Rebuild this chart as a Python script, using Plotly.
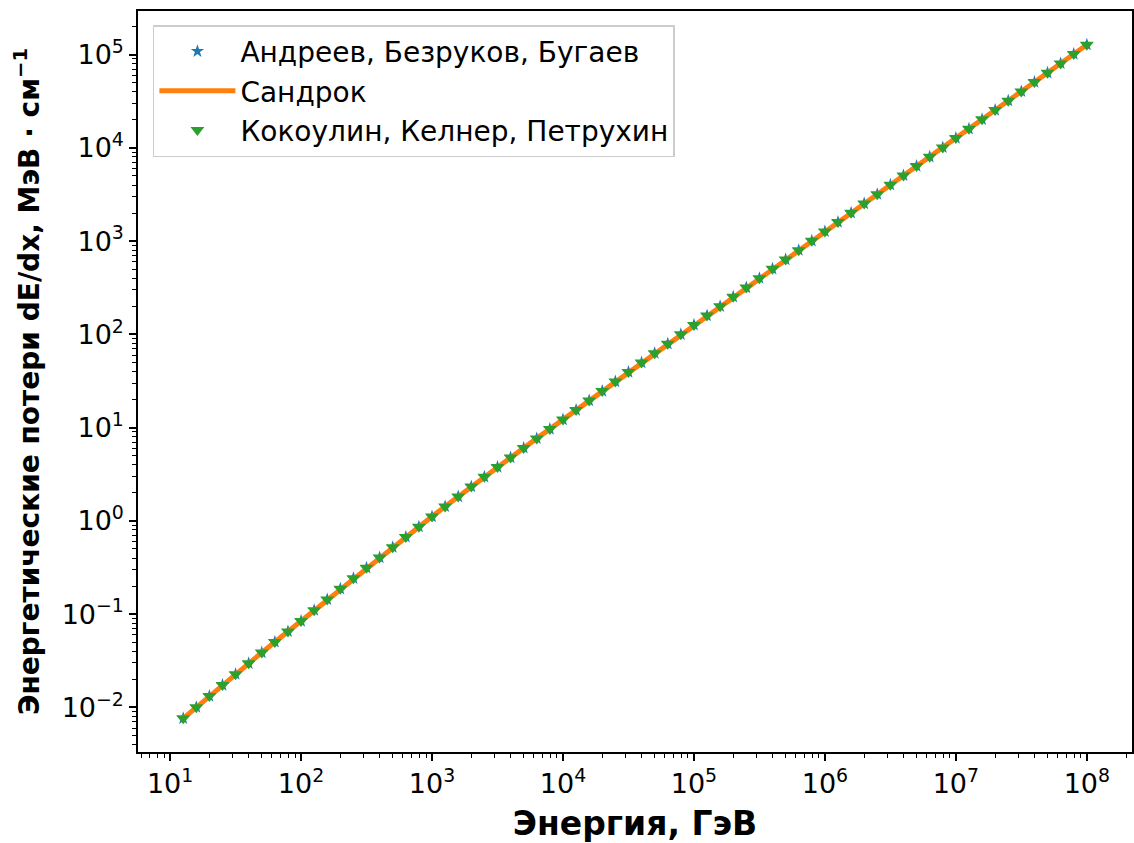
import plotly.graph_objects as go

# Energy grid, GeV (10 points per decade, 10^1.1 .. 10^8)
energy = [
    12.59, 15.85, 19.95, 25.12, 31.62, 39.81, 50.12, 63.10, 79.43, 100.0,
    125.9, 158.5, 199.5, 251.2, 316.2, 398.1, 501.2, 631.0, 794.3, 1000.0,
    1259, 1585, 1995, 2512, 3162, 3981, 5012, 6310, 7943, 10000,
    12590, 15850, 19950, 25120, 31620, 39810, 50120, 63100, 79430, 100000,
    125900, 158500, 199500, 251200, 316200, 398100, 501200, 631000, 794300, 1000000,
    1259000, 1585000, 1995000, 2512000, 3162000, 3981000, 5012000, 6310000, 7943000, 10000000,
    12590000, 15850000, 19950000, 25120000, 31620000, 39810000, 50120000, 63100000, 79430000, 100000000,
]

# Energy losses, MeV/cm
loss_andreev = [
    0.00764, 0.01007, 0.01324, 0.01738, 0.02275, 0.02972, 0.03873, 0.05035, 0.06531, 0.08453,
    0.1104, 0.1439, 0.1871, 0.2427, 0.3141, 0.4055, 0.5224, 0.6730, 0.8670, 1.114,
    1.429, 1.828, 2.333, 2.972, 3.776, 4.786, 6.067, 7.674, 9.683, 12.22,
    15.45, 19.54, 24.72, 31.26, 39.54, 49.89, 62.95, 79.43, 100.2, 126.5,
    159.2, 200.4, 252.9, 318.4, 400.9, 504.7, 635.3, 799.8, 1009, 1271,
    1600, 2014, 2535, 3192, 4018, 5070, 6383, 8035, 10120, 12740,
    16030, 20230, 25470, 32060, 40360, 50820, 63970, 80540, 101600, 127900,
]
loss_sandrock = [
    0.00764, 0.01007, 0.01324, 0.01738, 0.02275, 0.02972, 0.03873, 0.05035, 0.06531, 0.08453,
    0.1104, 0.1439, 0.1871, 0.2427, 0.3141, 0.4055, 0.5224, 0.6730, 0.8670, 1.114,
    1.429, 1.828, 2.333, 2.972, 3.776, 4.786, 6.067, 7.674, 9.683, 12.22,
    15.45, 19.54, 24.72, 31.26, 39.54, 49.89, 62.95, 79.43, 100.2, 126.5,
    159.2, 200.4, 252.9, 318.4, 400.9, 504.7, 635.3, 799.8, 1009, 1271,
    1600, 2014, 2535, 3192, 4018, 5070, 6383, 8035, 10120, 12740,
    16030, 20230, 25470, 32060, 40360, 50820, 63970, 80540, 101600, 127900,
]
loss_kokoulin = [
    0.00764, 0.01007, 0.01324, 0.01738, 0.02275, 0.02972, 0.03873, 0.05035, 0.06531, 0.08453,
    0.1104, 0.1439, 0.1871, 0.2427, 0.3141, 0.4055, 0.5224, 0.6730, 0.8670, 1.114,
    1.429, 1.828, 2.333, 2.972, 3.776, 4.786, 6.067, 7.674, 9.683, 12.22,
    15.45, 19.54, 24.72, 31.26, 39.54, 49.89, 62.95, 79.43, 100.2, 126.5,
    159.2, 200.4, 252.9, 318.4, 400.9, 504.7, 635.3, 799.8, 1009, 1271,
    1600, 2014, 2535, 3192, 4018, 5070, 6383, 8035, 10120, 12740,
    16030, 20230, 25470, 32060, 40360, 50820, 63970, 80540, 101600, 127900,
]

series_names = ["Андреев, Безруков, Бугаев", "Сандрок", "Кокоулин, Келнер, Петрухин"]

x_major = [1e1, 1e2, 1e3, 1e4, 1e5, 1e6, 1e7, 1e8]
x_major_text = ["10<sup>1</sup>", "10<sup>2</sup>", "10<sup>3</sup>", "10<sup>4</sup>",
                "10<sup>5</sup>", "10<sup>6</sup>", "10<sup>7</sup>", "10<sup>8</sup>"]
y_major = [1e-2, 1e-1, 1e0, 1e1, 1e2, 1e3, 1e4, 1e5]
y_major_text = ["10<sup>−2</sup>", "10<sup>−1</sup>", "10<sup>0</sup>", "10<sup>1</sup>",
                "10<sup>2</sup>", "10<sup>3</sup>", "10<sup>4</sup>", "10<sup>5</sup>"]

x_minor = [m * 10 ** k for k in range(0, 9) for m in range(2, 10)]
y_minor = [m * 10 ** k for k in range(-3, 6) for m in range(2, 10)]

FONT = "DejaVu Sans"

fig = go.Figure()
fig.add_trace(go.Scatter(
    x=energy, y=loss_andreev, name=series_names[0], mode="markers",
    marker=dict(symbol="star", size=10, color="#1f77b4"),
    legendgroup="a",
))
fig.add_trace(go.Scatter(
    x=energy, y=loss_sandrock, name=series_names[1], mode="lines",
    line=dict(color="#ff7f0e", width=5),
    legendgroup="b",
))
fig.add_trace(go.Scatter(
    x=energy, y=loss_kokoulin, name=series_names[2], mode="markers",
    marker=dict(symbol="triangle-down", size=12, color="#2ca02c"),
    legendgroup="c",
))

axis_common = dict(
    type="log", showgrid=False, zeroline=False,
    showline=True, linecolor="black", linewidth=1.5, mirror=True,
    ticks="outside", ticklen=7, tickwidth=1.5, tickcolor="black",
    tickfont=dict(family=FONT, size=27, color="black"),
)

fig.update_xaxes(
    **axis_common,
    range=[0.755, 8.345],
    tickmode="array", tickvals=x_major, ticktext=x_major_text,
    minor=dict(tickmode="array", tickvals=x_minor, ticks="outside",
               ticklen=4, tickwidth=1, tickcolor="black"),
    title=dict(text="<b>Энергия, ГэВ</b>", font=dict(family=FONT, size=33, color="black"),
               standoff=14),
)
fig.update_yaxes(
    **axis_common,
    range=[-2.478, 5.468],
    tickmode="array", tickvals=y_major, ticktext=y_major_text,
    minor=dict(tickmode="array", tickvals=y_minor, ticks="outside",
               ticklen=4, tickwidth=1, tickcolor="black"),
    title=dict(text="<b>Энергетические потери dE/dx, МэВ · см<sup>−1</sup></b>",
               font=dict(family=FONT, size=28, color="black"), standoff=14),
)

fig.update_layout(
    width=1134, height=843,
    margin=dict(l=138, r=0, t=11, b=91),
    paper_bgcolor="white", plot_bgcolor="white",
    font=dict(family=FONT, color="black"),
    legend=dict(
        x=0.015, y=0.981, xanchor="left", yanchor="top",
        bgcolor="white", bordercolor="#cccccc", borderwidth=1.5,
        font=dict(family=FONT, size=28, color="black"),
        tracegroupgap=0, traceorder="grouped",
        itemwidth=76,
    ),
    showlegend=True,
)

fig.write_html("out.html")
